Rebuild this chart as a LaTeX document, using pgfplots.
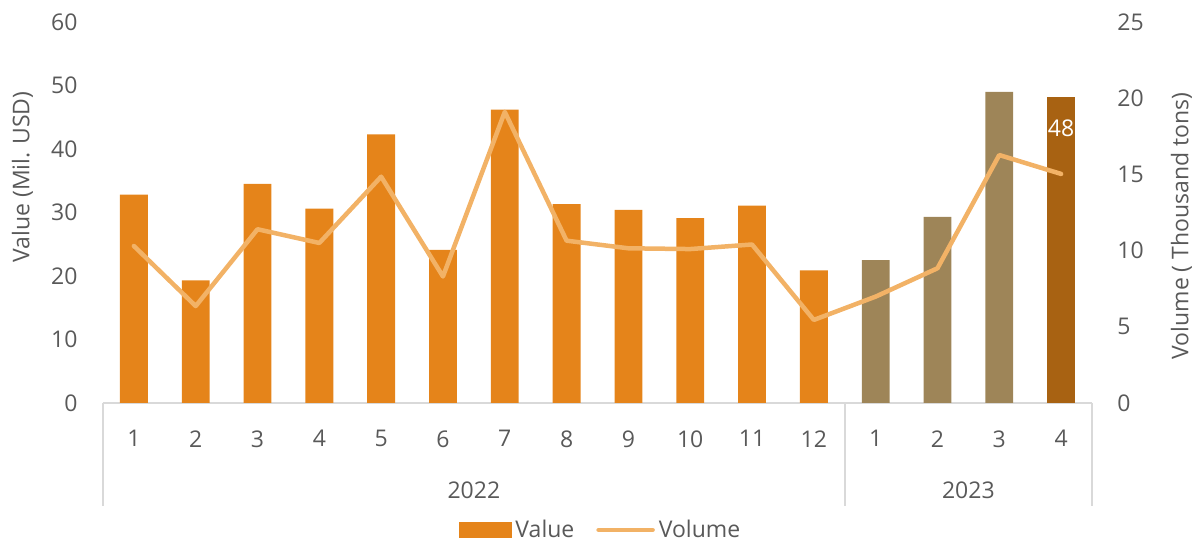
\documentclass[border=0pt]{standalone}
\usepackage{pgfplots}
\pgfplotsset{compat=1.18}
\usepackage{fontspec}
\setmainfont{Open Sans}

\definecolor{valOrange}{HTML}{E5841A}
\definecolor{valTan}{HTML}{9E8558}
\definecolor{valDark}{HTML}{A86212}
\definecolor{volLine}{HTML}{F2B266}
\definecolor{txtGray}{HTML}{595959}
\definecolor{axGray}{HTML}{D9D9D9}

\begin{document}
\begin{tikzpicture}[font=\fontsize{11.5}{13.8}\selectfont]
% bars: value (left axis)
\begin{axis}[
  name=main,
  scale only axis, width=494.5pt, height=190.5pt,
  xmin=-0.5, xmax=15.5, ymin=0, ymax=60,
  enlargelimits=false,
  axis x line*=bottom, axis y line*=left,
  x axis line style={draw=axGray, line width=0.75pt},
  y axis line style={draw=none},
  xtick={0,...,15},
  xticklabels={1,2,3,4,5,6,7,8,9,10,11,12,1,2,3,4},
  ytick={0,10,...,60},
  major tick length=0pt,
  tick label style={text=txtGray},
  /pgf/number format/assume math mode=true,
  xticklabel style={yshift=-10.2pt},
  yticklabel style={xshift=-9.2pt},
  ylabel={Value (Mil. USD)},
  ylabel style={at={(axis description cs:-0.0814,0.593)}, anchor=center, text=txtGray},
  clip=false,
  ybar, bar width=0.45,
]
\addplot[fill=valOrange, draw=none, bar shift=0pt] coordinates {
  (0,32.8) (1,19.3) (2,34.5) (3,30.6) (4,42.3) (5,24.1)
  (6,46.2) (7,31.3) (8,30.4) (9,29.1) (10,31.1) (11,20.9)
};
\addplot[fill=valTan, draw=none, bar shift=0pt] coordinates {
  (12,22.5) (13,29.3) (14,49.0)
};
\addplot[fill=valDark, draw=none, bar shift=0pt] coordinates {
  (15,48.2)
};
\node[text=white] at (axis cs:15,43.3) {48};

% year grouping of the category axis
\draw[axGray, line width=0.75pt] (axis cs:-0.5,0) -- ([yshift=-51.5pt]axis cs:-0.5,0);
\draw[axGray, line width=0.75pt] (axis cs:11.5,0) -- ([yshift=-51.5pt]axis cs:11.5,0);
\draw[axGray, line width=0.75pt] (axis cs:15.5,0) -- ([yshift=-51.5pt]axis cs:15.5,0);
\node[text=txtGray, yshift=-43.5pt] at (axis cs:5.5,0) {2022};
\node[text=txtGray, yshift=-43.5pt] at (axis cs:13.5,0) {2023};
\end{axis}

% line: volume (right axis)
\begin{axis}[
  scale only axis, width=494.5pt, height=190.5pt,
  xmin=-0.5, xmax=15.5, ymin=0, ymax=25,
  enlargelimits=false,
  axis x line=none, axis y line*=right,
  y axis line style={draw=none},
  ytick={0,5,...,25},
  major tick length=0pt,
  tick label style={text=txtGray},
  /pgf/number format/assume math mode=true,
  yticklabel style={xshift=9.2pt},
  ylabel={Volume ( Thousand tons)},
  ylabel style={at={(axis description cs:1.0905,0.4646)}, anchor=center, text=txtGray},
  legend style={at={(0.504,-0.333)}, anchor=center, draw=none, fill=none,
    inner sep=0pt, nodes={inner ysep=1pt},
    legend columns=2, text=txtGray,
    /tikz/every even column/.append style={column sep=9pt}},
]
\addlegendimage{legend image code/.code={\fill[valOrange] (0pt,-3.75pt) rectangle (26pt,3.75pt);}}
\addlegendentry{Value}
\addplot[volLine, line width=2.25pt, line join=round, line cap=round, mark=none,
  legend image code/.code={\draw[volLine, line width=2.25pt] (0pt,0pt) -- (27pt,0pt);}]
  coordinates {
  (0,10.3) (1,6.36) (2,11.4) (3,10.5) (4,14.85) (5,8.3)
  (6,19.1) (7,10.65) (8,10.15) (9,10.1) (10,10.4) (11,5.45)
  (12,6.98) (13,8.84) (14,16.27) (15,15.03)
};
\addlegendentry{Volume}
\end{axis}

\pgfresetboundingbox
\path ([shift={(-51.5pt,-69.5pt)}]main.south west) rectangle ([shift={(51.5pt,11pt)}]main.north east);
\end{tikzpicture}
\end{document}
